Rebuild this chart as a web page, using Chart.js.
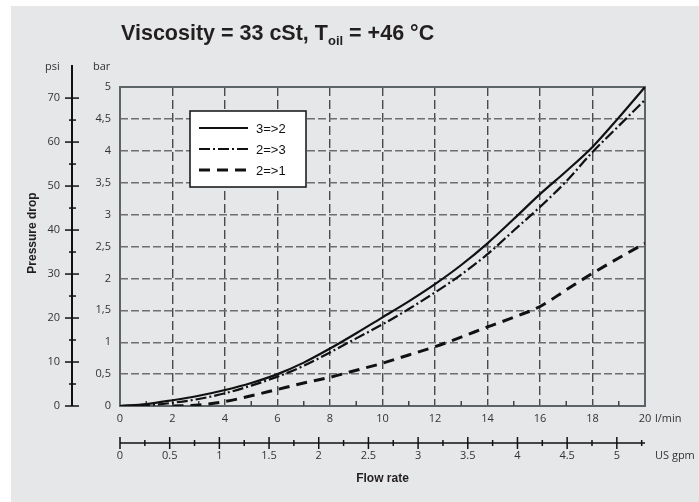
<!DOCTYPE html>
<html>
<head>
<meta charset="utf-8">
<script src="https://cdn.jsdelivr.net/npm/chart.js@4"></script>
<style>
  html, body { margin: 0; padding: 0; background: #fff; }
  canvas { display: block; }
</style>
</head>
<body>
<canvas id="dropChart" width="699" height="502"></canvas>
<script>
// flow rate in l/min
const flow = [0, 1, 2, 3, 4, 5, 6, 7, 8, 9, 10, 11, 12, 13, 14, 15, 16, 17, 18, 19, 20];
// pressure drop in bar
const drop32 = [0, 0.03, 0.09, 0.16, 0.25, 0.36, 0.50, 0.68, 0.90, 1.14, 1.39, 1.64, 1.91, 2.21, 2.55, 2.93, 3.32, 3.68, 4.06, 4.52, 5.0];
const drop23 = [0, 0.01, 0.05, 0.11, 0.20, 0.32, 0.46, 0.63, 0.84, 1.06, 1.28, 1.52, 1.78, 2.06, 2.38, 2.75, 3.12, 3.52, 3.98, 4.39, 4.8];
const drop21 = [null, null, 0, 0.015, 0.07, 0.16, 0.26, 0.36, 0.45, 0.56, 0.67, 0.80, 0.93, 1.08, 1.24, 1.39, 1.56, 1.82, 2.08, 2.32, 2.55];

const seriesNames = ['3=>2', '2=>3', '2=>1'];
const psiMajor = [0, 10, 20, 30, 40, 50, 60, 70];
const psiMinor = [5, 15, 25, 35, 45, 55, 65];
const gpmMajor = [0, 0.5, 1, 1.5, 2, 2.5, 3, 3.5, 4, 4.5, 5];
const gpmMinor = [0.25, 0.75, 1.25, 1.75, 2.25, 2.75, 3.25, 3.75, 4.25, 4.75, 5.25];

const PSI_PER_BAR = 14.5038;
const LPM_PER_GPM = 3.78541;

const pts = arr => flow.map((x, i) => ({x: x, y: arr[i]}));
const tickFont = {family: "'Open Sans', 'Liberation Sans', sans-serif", size: 11};

const decor = {
    id: 'decor',
    beforeDraw(chart) {
        const {ctx} = chart;
        ctx.save();
        ctx.fillStyle = '#e6e7e8';
        ctx.fillRect(11, 6, 699 - 11, 502 - 6);
        ctx.restore();
    },
    beforeDatasetsDraw(chart) {
        const {ctx, chartArea: a, scales} = chart;
        ctx.save();
        // plot frame
        ctx.strokeStyle = '#5c6468';
        ctx.lineWidth = 2;
        ctx.strokeRect(a.left, a.top, a.right - a.left, a.bottom - a.top);
        // minor ticks on l/min axis
        ctx.lineWidth = 1.5;
        ctx.strokeStyle = '#444';
        for (let v = 1; v < 20; v += 2) {
            const x = scales.x.getPixelForValue(v);
            ctx.beginPath();
            ctx.moveTo(x, a.bottom);
            ctx.lineTo(x, a.bottom - 5);
            ctx.stroke();
        }
        ctx.restore();
    },
    afterDraw(chart) {
        const {ctx, chartArea: a, scales} = chart;
        ctx.save();
        ctx.fillStyle = '#231f20';
        ctx.strokeStyle = '#111';

        // title with subscript
        let x = 121;
        ctx.textBaseline = 'alphabetic';
        ctx.textAlign = 'left';
        ctx.font = "bold 21.5px 'Liberation Sans', Arial, sans-serif";
        const t1 = 'Viscosity = 33 cSt, T';
        ctx.fillText(t1, x, 40);
        x += ctx.measureText(t1).width;
        ctx.font = "bold 13px 'Liberation Sans', Arial, sans-serif";
        ctx.fillText('oil', x, 45);
        x += ctx.measureText('oil').width;
        ctx.font = "bold 21.5px 'Liberation Sans', Arial, sans-serif";
        ctx.fillText(' = +46 °C', x, 40);

        // psi axis
        const px = 72;
        const psi = scales.psi;
        ctx.lineWidth = 2;
        ctx.beginPath();
        ctx.moveTo(px, 65);
        ctx.lineTo(px, psi.getPixelForValue(0));
        ctx.stroke();
        ctx.lineWidth = 1.5;
        psiMajor.forEach(v => {
            const y = psi.getPixelForValue(v);
            ctx.beginPath(); ctx.moveTo(px - 7, y); ctx.lineTo(px + 7, y); ctx.stroke();
        });
        psiMinor.forEach(v => {
            const y = psi.getPixelForValue(v);
            ctx.beginPath(); ctx.moveTo(px - 3, y); ctx.lineTo(px + 4, y); ctx.stroke();
        });

        // US gpm axis
        const gpm = scales.gpm;
        const gy = gpm.top;
        ctx.lineWidth = 1.5;
        ctx.beginPath();
        ctx.moveTo(a.left, gy);
        ctx.lineTo(a.right, gy);
        ctx.stroke();
        gpmMajor.forEach(v => {
            const gx = gpm.getPixelForValue(v);
            ctx.beginPath(); ctx.moveTo(gx, gy - 6); ctx.lineTo(gx, gy + 6); ctx.stroke();
        });
        gpmMinor.forEach(v => {
            const gx = gpm.getPixelForValue(v);
            ctx.beginPath(); ctx.moveTo(gx, gy - 3); ctx.lineTo(gx, gy + 3); ctx.stroke();
        });

        // unit labels
        ctx.font = "11px 'Open Sans', 'Liberation Sans', sans-serif";
        ctx.fillStyle = '#333';
        ctx.textBaseline = 'middle';
        ctx.fillText('psi', 45, 67);
        ctx.fillText('bar', 93, 67);
        ctx.fillText('l/min', 655, 419);
        ctx.fillText('US gpm', 655, 456);

        // vertical axis title
        ctx.save();
        ctx.translate(33, 233);
        ctx.rotate(-Math.PI / 2);
        ctx.textAlign = 'center';
        ctx.font = "bold 12px 'Liberation Sans', Arial, sans-serif";
        ctx.fillStyle = '#231f20';
        ctx.fillText('Pressure drop', 0, 0);
        ctx.restore();

        // legend
        const lx = 190, ly = 111, lw = 116, lh = 76;
        ctx.fillStyle = '#fff';
        ctx.fillRect(lx, ly, lw, lh);
        ctx.strokeStyle = '#111';
        ctx.lineWidth = 1.5;
        ctx.strokeRect(lx, ly, lw, lh);
        chart.data.datasets.forEach((ds, i) => {
            const y = 128 + i * 21;
            ctx.save();
            ctx.strokeStyle = '#111';
            ctx.lineWidth = ds.borderWidth;
            ctx.setLineDash(ds.borderDash || []);
            ctx.beginPath();
            ctx.moveTo(199, y);
            ctx.lineTo(248, y);
            ctx.stroke();
            ctx.restore();
            ctx.fillStyle = '#111';
            ctx.font = "13px 'Liberation Sans', Arial, sans-serif";
            ctx.textBaseline = 'middle';
            ctx.textAlign = 'left';
            ctx.fillText(ds.label, 256, y + 1);
        });
        ctx.restore();
    }
};

const ctx = document.getElementById('dropChart').getContext('2d');

new Chart(ctx, {
    type: 'line',
    data: {
        datasets: [{
            label: seriesNames[0],
            data: pts(drop32),
            borderColor: '#111',
            borderWidth: 2.2,
            pointRadius: 0,
            cubicInterpolationMode: 'monotone'
        }, {
            label: seriesNames[1],
            data: pts(drop23),
            borderColor: '#111',
            borderWidth: 2.2,
            borderDash: [11, 3, 2, 3],
            pointRadius: 0,
            cubicInterpolationMode: 'monotone'
        }, {
            label: seriesNames[2],
            data: pts(drop21),
            borderColor: '#111',
            borderWidth: 3,
            borderDash: [11, 7],
            pointRadius: 0,
            cubicInterpolationMode: 'monotone'
        }]
    },
    options: {
        responsive: false,
        animation: false,
        layout: { padding: { left: 11, top: 87, right: 54, bottom: 0 } },
        plugins: {
            legend: { display: false },
            tooltip: { enabled: false }
        },
        scales: {
            x: {
                type: 'linear',
                position: 'bottom',
                weight: 0,
                min: 0,
                max: 20,
                ticks: { stepSize: 2, padding: 6, color: '#333', font: tickFont, maxRotation: 0, autoSkip: false },
                grid: {
                    drawTicks: false,
                    lineWidth: 1.4,
                    color: c => (c.tick.value === 0 || c.tick.value === 20) ? 'rgba(0,0,0,0)' : '#4a4a4a'
                },
                border: { display: false, dash: [9, 4] },
                afterFit: s => { s.height = 37; }
            },
            gpm: {
                type: 'linear',
                position: 'bottom',
                weight: 1,
                min: 0,
                max: 20 / LPM_PER_GPM,
                afterBuildTicks: s => { s.ticks = gpmMajor.map(v => ({value: v})); },
                ticks: {
                    padding: 6, color: '#333', font: tickFont, maxRotation: 0, autoSkip: false,
                    callback: v => String(v)
                },
                grid: { display: false, drawTicks: false },
                border: { display: false },
                title: {
                    display: true,
                    text: 'Flow rate',
                    color: '#231f20',
                    font: { family: "'Liberation Sans', Arial, sans-serif", size: 12, weight: 'bold' },
                    padding: { top: 0, bottom: 16 }
                },
                afterFit: s => { s.height = 59; }
            },
            y: {
                type: 'linear',
                position: 'left',
                weight: 0,
                min: 0,
                max: 5,
                ticks: {
                    stepSize: 0.5, padding: 9, color: '#333', font: tickFont, autoSkip: false,
                    callback: v => String(v).replace('.', ',')
                },
                grid: {
                    drawTicks: false,
                    lineWidth: 1.4,
                    color: c => (c.tick.value === 0 || c.tick.value === 5) ? 'rgba(0,0,0,0)' : '#6e6e6e'
                },
                border: { display: false, dash: [8, 3] },
                afterFit: s => { s.width = 48; }
            },
            psi: {
                type: 'linear',
                position: 'left',
                weight: 1,
                min: 0,
                max: 5 * PSI_PER_BAR,
                afterBuildTicks: s => { s.ticks = psiMajor.map(v => ({value: v})); },
                ticks: { padding: 12, color: '#333', font: tickFont, autoSkip: false, callback: v => String(v) },
                grid: { display: false, drawTicks: false },
                border: { display: false },
                afterFit: s => { s.width = 61; }
            }
        }
    },
    plugins: [decor]
});
</script>
</body>
</html>
